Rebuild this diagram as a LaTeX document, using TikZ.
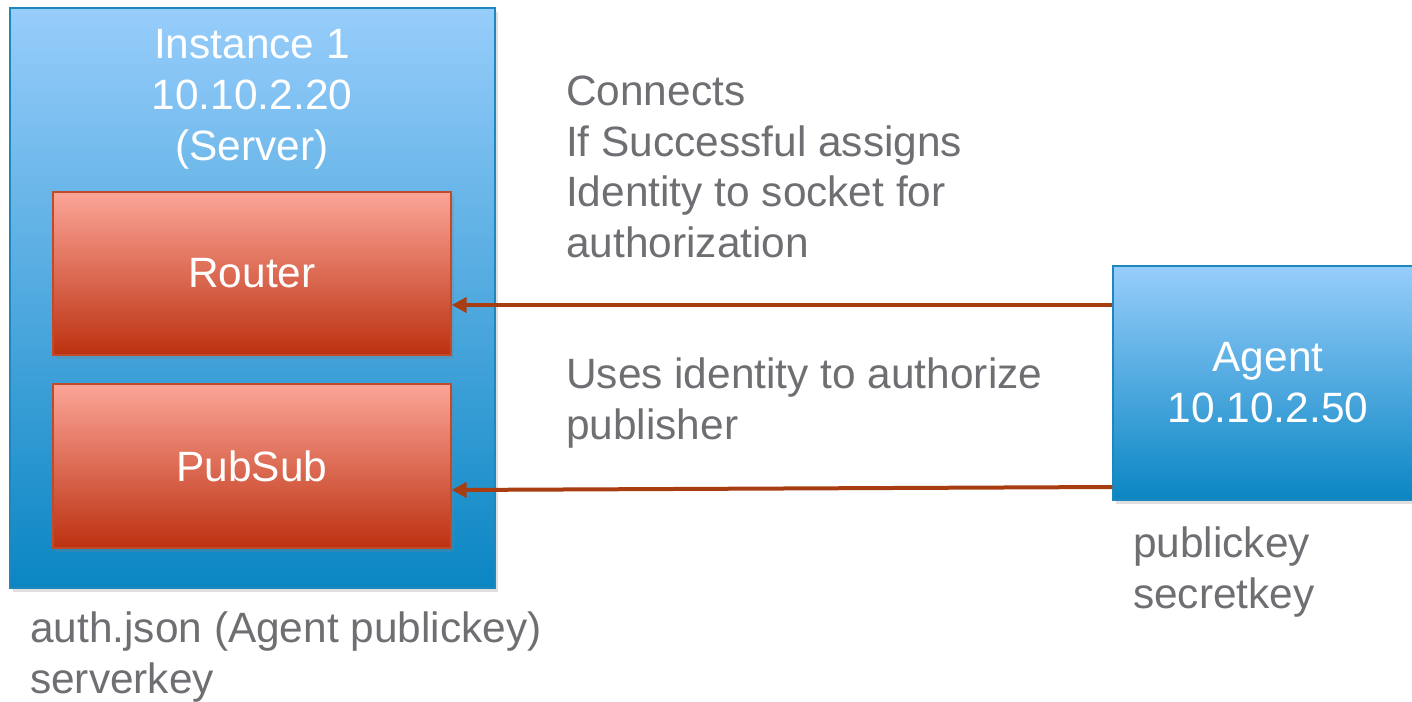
\documentclass[tikz,border=0pt]{standalone}
\usepackage{fontspec}
\setmainfont{Liberation Sans}
\usetikzlibrary{arrows.meta,shadows}
\definecolor{blueTop}{HTML}{97CDFB}
\definecolor{blueBot}{HTML}{0A86C3}
\definecolor{blueLine}{HTML}{1E88BE}
\definecolor{redTop}{HTML}{FCA598}
\definecolor{redMid}{HTML}{E07A6A}
\definecolor{redBot}{HTML}{BC3110}
\definecolor{redLine}{HTML}{C04A2A}
\definecolor{arrowRed}{HTML}{A83D12}
\definecolor{txtGray}{HTML}{6E6F73}
\tikzset{
  bigfont/.style={font=\fontsize{42.4}{50.8}\selectfont},
  bluebox/.style={draw=blueLine, line width=1.2pt, shading=axis, top color=blueTop, bottom color=blueBot,
    drop shadow={shadow xshift=3pt, shadow yshift=-4pt, opacity=0.25}, inner sep=0pt},
  redbox/.style={draw=redLine, line width=1.2pt, shading=axis, top color=redTop, middle color=redMid, bottom color=redBot,
    drop shadow={shadow xshift=3pt, shadow yshift=-4pt, opacity=0.25}, inner sep=0pt,
    minimum width=398pt, text=white, bigfont},
  graytext/.style={text=txtGray, bigfont, align=left, inner sep=0pt, anchor=north west},
  whitetext/.style={text=white, bigfont, align=center, inner sep=0pt},
  arr/.style={draw=arrowRed, line width=4pt, -{Triangle[length=15pt,width=15pt]}}
}
\begin{document}
\begin{tikzpicture}[x=1pt,y=-1pt]
\clip (0,0) rectangle (1412,701);
\fill[white] (0,0) rectangle (1412,701);
% Server instance
\node[bluebox, minimum width=485pt, minimum height=580pt] (inst) at (252.5,298) {};
\node[whitetext, anchor=north] (insttitle) at (252,29.5) {Instance 1\\10.10.2.20\\(Server)};
\node[redbox, minimum height=163pt] (router) at (252,273.5) {Router};
\node[redbox, minimum height=164pt] (pubsub) at (252,466) {PubSub};
% Agent
\node[bluebox, minimum width=310pt, minimum height=234pt, whitetext] (agent) at (1268,383) {Agent\\10.10.2.50};
% arrows
\coordinate (p1) at (0,305);
\coordinate (p2) at (0,487);
\coordinate (p3) at (0,490);
\draw[arr] (agent.west |- p1) -- (router.east |- p1);
\draw[arr] (agent.west |- p2) -- (pubsub.east |- p3);
% labels
\node[graytext] (lbl1) at (566,75.5) {Connects\\If Successful assigns\\Identity to socket for\\authorization};
\node[graytext] (lbl2) at (566,357.5) {Uses identity to authorize\\publisher};
\node[graytext] (lbl3) at (30,612) {auth.json (Agent publickey)\\serverkey};
\node[graytext] (lbl4) at (1133,526.5) {publickey\\secretkey};
\end{tikzpicture}
\end{document}
